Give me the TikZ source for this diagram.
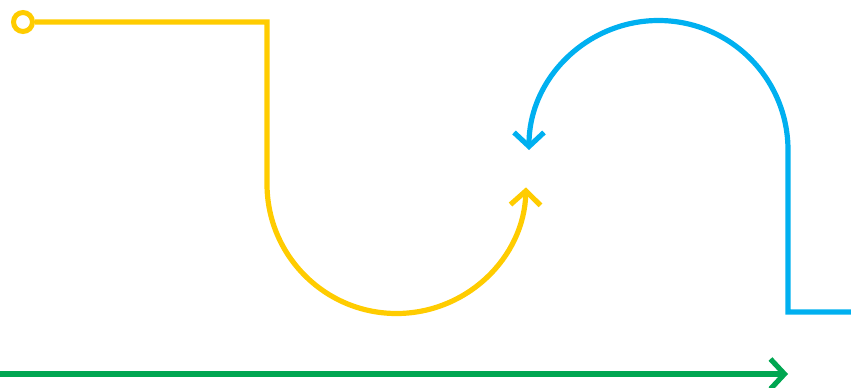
\documentclass[tikz,border=0pt]{standalone}
\usetikzlibrary{arrows.meta}
\definecolor{cyellow}{HTML}{FFCC00}
\definecolor{cblue}{HTML}{00B0F0}
\definecolor{cgreen}{HTML}{00A651}
\begin{document}
\begin{tikzpicture}[x=1pt,y=-1pt,line width=5.2pt,
  barb/.style={-{Straight Barb[length=14pt,width=30pt,line width=5.2pt]}},
  ring/.style={circle,draw=cyellow,line width=5pt,minimum size=19pt,inner sep=0pt}]
\useasboundingbox (0,0) rectangle (851,388);
% yellow path
\node[ring] (start) at (23,22) {};
\coordinate (y1) at (267,22);
\coordinate (y2) at (267,184);
\draw[cyellow,barb] (start.east) -- (y1) -- (y2) arc[start angle=180,end angle=1.5,radius=129.5];
% blue path
\coordinate (b0) at (851,312);
\coordinate (b1) at (788,312);
\coordinate (b2) at (788,150);
\draw[cblue,barb] (b0) -- (b1) -- (b2) arc[start angle=0,end angle=-180,radius=129.5];
% green arrow
\coordinate (g0) at (0,374);
\coordinate (g1) at (788,374);
\draw[cgreen,barb] (g0) -- (g1);
\end{tikzpicture}
\end{document}
